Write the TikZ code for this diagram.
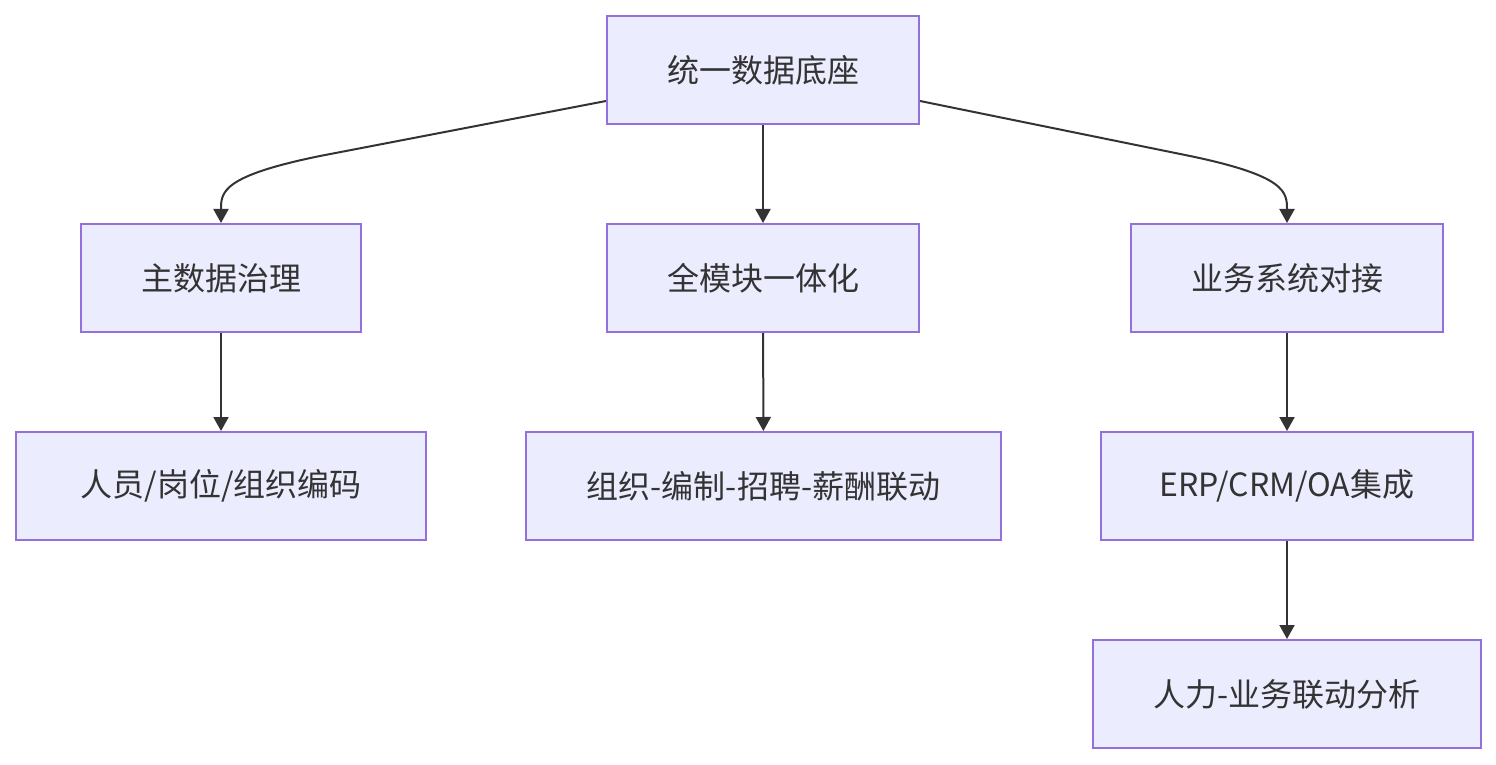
\documentclass[tikz,border=0pt]{standalone}
\usepackage{fontspec}
\setmainfont{Noto Sans CJK SC}
\usetikzlibrary{arrows.meta,calc}
\definecolor{boxfill}{HTML}{ECECFF}
\definecolor{boxline}{HTML}{9370DB}
\definecolor{edge}{HTML}{333333}
\begin{document}
\begin{tikzpicture}[x=1pt,y=1pt,
  box/.style={draw=boxline,fill=boxfill,line width=2pt,minimum height=108pt,inner sep=0pt,
    font=\fontsize{32}{38}\selectfont,text=edge},
  link/.style={draw=edge,line width=2pt,-{Triangle[length=14pt,width=15pt]}}]
\useasboundingbox (0,0) rectangle (1496,764);
\node[box,minimum width=312pt] (top) at (763,694) {统一数据底座};
\node[box,minimum width=280pt] (a) at (221,486) {主数据治理};
\node[box,minimum width=312pt] (b) at (763,486) {全模块一体化};
\node[box,minimum width=312pt] (c) at (1287,486) {业务系统对接};
\node[box,minimum width=410pt] (a1) at (221,278) {人员/岗位/组织编码};
\node[box,minimum width=475pt] (b1) at (763.5,278) {组织-编制-招聘-薪酬联动};
\node[box,minimum width=372pt] (c1) at (1287,278) {ERP/CRM/OA集成};
\node[box,minimum width=388pt] (c2) at (1287,70) {人力-业务联动分析};
\draw[link] ($(top.south west)+(0,24)$) -- (320,608) .. controls (222,588) and (221,572) .. (a.north);
\draw[link] ($(top.south east)+(0,24)$) -- (1190,608) .. controls (1286,588) and (1287,572) .. (c.north);
\draw[link] (top) -- (b);
\draw[link] (a) -- (a1);
\draw[link] (b) -- (b1);
\draw[link] (c) -- (c1);
\draw[link] (c1) -- (c2);
\end{tikzpicture}
\end{document}
